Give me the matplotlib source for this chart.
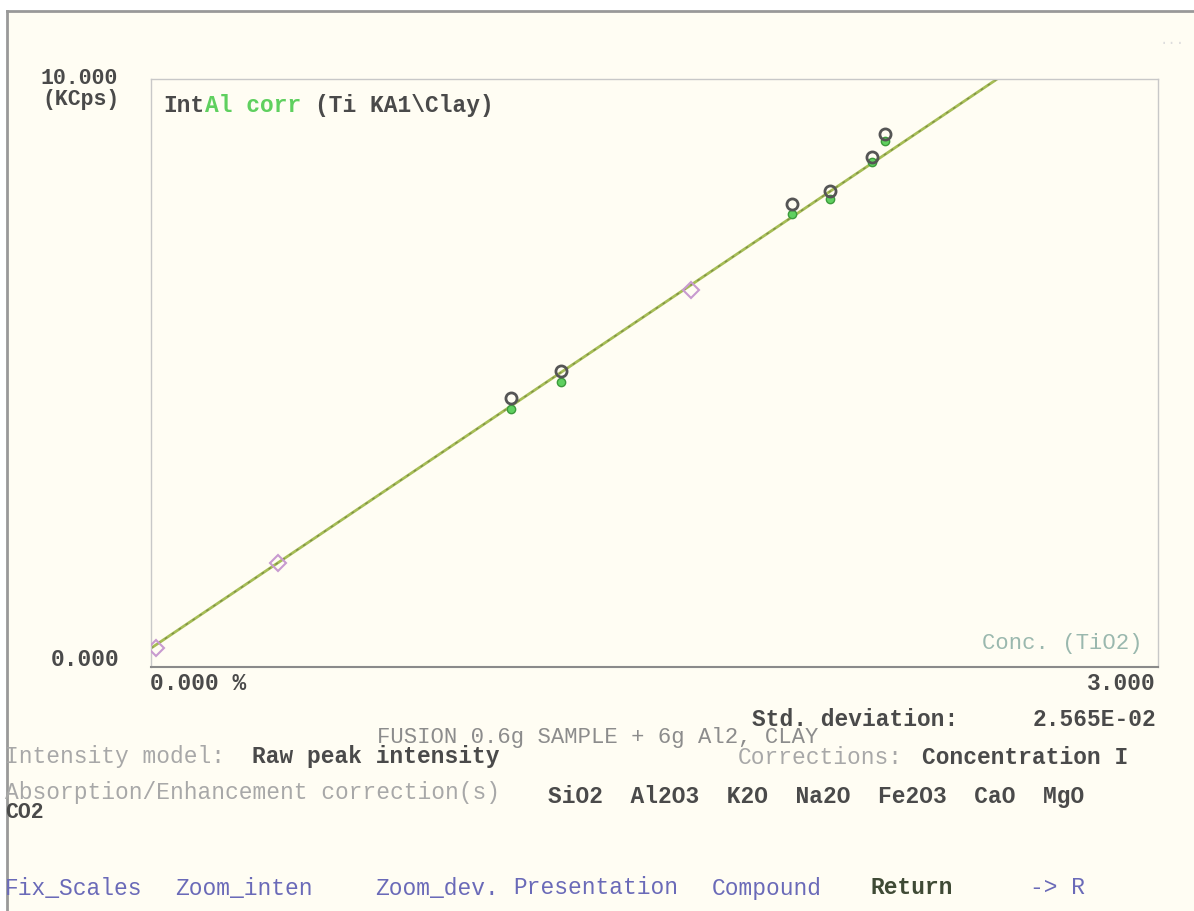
#!/usr/bin/env python3

import matplotlib
matplotlib.use('Agg')
import matplotlib.pyplot as plt
import numpy as np

######################
# Data
######################
# standards measured (black circles) and corrected (green dots)
STD_CONC = [1.072, 1.221, 1.909, 2.023, 2.148, 2.187]
STD_INT_MEAS = [4.58, 5.03, 7.87, 8.09, 8.67, 9.06]
STD_INT_CORR = [4.38, 4.84, 7.70, 7.96, 8.59, 8.94]

# other samples (pink diamonds)
OTH_CONC = [0.015, 0.378, 1.609]
OTH_INT = [0.32, 1.77, 6.41]

# calibration line
FIT_INTERCEPT = 0.32
FIT_SLOPE = 3.84
FIT_CONC = [0.0, 3.0]

X_MAX = 3.0
Y_MAX = 10.0

MENU = ["Fix_Scales", "Zoom_inten", "Zoom_dev.", "Presentation", "Compound", "Return", "-> R"]
ABS_OXIDES = ["SiO2", "Al2O3", "K2O", "Na2O", "Fe2O3", "CaO", "MgO"]

W, H = 1194, 911
BG = '#fffdf3'
DARK = '#4a4a4a'
LIGHT = '#a8a8a8'
GREEN = '#5fd05f'
BLUE = '#6a6ab8'
FONT = 'Liberation Mono'

fig = plt.figure(figsize=(W / 100, H / 100), dpi=100)
fig.patch.set_facecolor('white')

def fx(x):
    return x / W

def fy(y):
    return 1 - y / H

def txt(x, y, s, color=DARK, bold=True, ha='left', size=16.5, **kw):
    fig.text(fx(x), fy(y), s, color=color, ha=ha, va='center', family=FONT,
             fontweight='bold' if bold else 'normal', fontsize=size, **kw)

# screen background and frame
bg = fig.add_axes([fx(7), 0, 1 - fx(7), fy(11)])
bg.set_facecolor(BG)
bg.set_xticks([])
bg.set_yticks([])
for s in ['right', 'bottom']:
    bg.spines[s].set_visible(False)
for s in ['left', 'top']:
    bg.spines[s].set_color('#999999')
    bg.spines[s].set_linewidth(2)

#########
# plot area
#########
ax = fig.add_axes([fx(151), fy(667), fx(1158) - fx(151), fy(79) - fy(667)])
ax.set_facecolor(BG)
ax.set_xlim(0, X_MAX)
ax.set_ylim(0, Y_MAX)
ax.set_xticks([])
ax.set_yticks([])
for s in ['left', 'top', 'right']:
    ax.spines[s].set_color('#c8c8c8')
    ax.spines[s].set_linewidth(1)
ax.spines['bottom'].set_color('#8a8a8a')
ax.spines['bottom'].set_linewidth(1.5)

fit_conc = np.array(FIT_CONC)
ax.plot(fit_conc, FIT_INTERCEPT + FIT_SLOPE * fit_conc, color='#a6bd55', lw=2, zorder=2)
ax.plot(fit_conc, FIT_INTERCEPT + FIT_SLOPE * fit_conc, color='#7f8f48', lw=1,
        dashes=(2, 4), zorder=2)

ax.plot(STD_CONC, STD_INT_CORR, 'o', ms=6, color=GREEN, mec='#3c9a3c', mew=1, zorder=3)
ax.plot(STD_CONC, STD_INT_MEAS, 'o', ms=8, mfc='none', mec='#555555', mew=2, zorder=4)
ax.plot(OTH_CONC, OTH_INT, 'D', ms=8, mfc='none', mec='#c89ad0', mew=1.5, zorder=4)

ax.text(0.012, 0.955, "Int", transform=ax.transAxes, color=DARK, family=FONT,
        fontweight='bold', fontsize=16.5, va='center')
ax.text(0.012 + 3 * 0.01372, 0.955, "Al corr", transform=ax.transAxes, color=GREEN,
        family=FONT, fontweight='bold', fontsize=16.5, va='center')
ax.text(0.012 + 11 * 0.01372, 0.955, "(Ti KA1\\Clay)", transform=ax.transAxes,
        color=DARK, family=FONT, fontweight='bold', fontsize=16.5, va='center')
ax.text(0.985, 0.04, "Conc. (TiO2)", transform=ax.transAxes, color='#9ab8ae',
        family=FONT, fontsize=16, ha='right', va='center')

#########
# axis labels
#########
txt(118, 79, "10.000", ha='right', size=15.5)
txt(120, 99, "(KCps)", ha='right', size=15.5)
txt(120, 660, "0.000", ha='right')
txt(150, 683, "0.000 %")
txt(1156, 683, "3.000", ha='right')

#########
# status text
#########
txt(752, 719, "Std. deviation:")
txt(1156, 719, "2.565E-02", ha='right')
txt(377, 738, "FUSION 0.6g SAMPLE + 6g Al2, CLAY", color='#8c8c8c', bold=False, size=16)

txt(5, 756, "Intensity model:", color=LIGHT, bold=False)
txt(252, 756, "Raw peak intensity")
txt(738, 758, "Corrections:", color=LIGHT, bold=False)
txt(922, 758, "Concentration I")

txt(5, 793, "Absorption/Enhancement correction(s)", color=LIGHT, bold=False)
txt(548, 796, "  ".join(ABS_OXIDES))
txt(5, 813, "CO2", size=15.5)

menu_x = [5, 175, 375, 513, 712, 870, 1030]
for x, s in zip(menu_x, MENU):
    txt(x, 888, s, color='#3f4a35' if s == "Return" else BLUE, bold=(s == "Return"))

txt(1160, 40, "...", color='#dddddd', bold=False, size=10)

plt.savefig('out.png', dpi=100, facecolor=fig.get_facecolor())
